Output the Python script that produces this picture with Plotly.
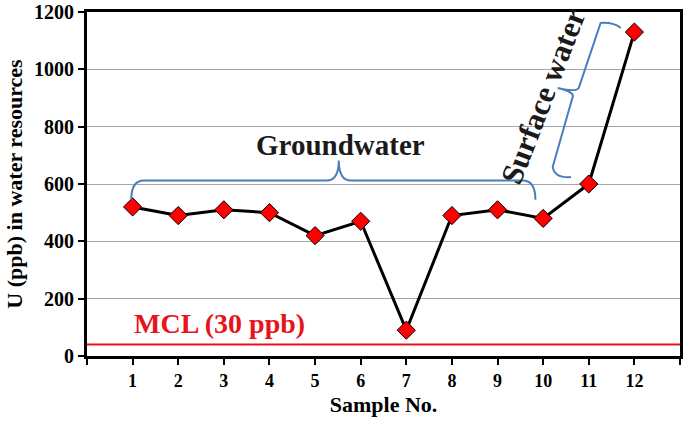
import plotly.graph_objects as go

samples = list(range(1, 13))
uranium_ppb = [520, 490, 510, 500, 420, 470, 90, 490, 510, 480, 600, 1130]
mcl_level = 40
y_ticks = [0, 200, 400, 600, 800, 1000, 1200]

FONT = "Liberation Serif, Times New Roman, serif"
BLUE = "#4a7ebb"

fig = go.Figure()
fig.add_trace(go.Scatter(
    x=samples, y=uranium_ppb, mode="lines+markers",
    line=dict(color="black", width=3),
    marker=dict(symbol="diamond", size=14, color="#ff0000",
                line=dict(color="black", width=1)),
    showlegend=False, cliponaxis=False,
))

shapes = [
    dict(type="line", xref="paper", yref="y", x0=0, x1=1, y0=mcl_level, y1=mcl_level,
         line=dict(color="#e8141b", width=2), layer="below"),
    # Groundwater brace
    dict(type="path", xref="x", yref="y",
         path="M 0.97,545 Q 0.97,612 1.25,612 L 5.25,612 Q 5.52,612 5.52,682 "
              "Q 5.52,612 5.79,612 L 9.55,612 Q 9.83,612 9.83,545",
         line=dict(color=BLUE, width=2)),
    # Surface water brace
    dict(type="path", xref="x", yref="y",
         path="M 11.70,1144 Q 11.55,1165 11.26,1162 L 10.78,935 "
              "Q 10.72,920 10.32,935 Q 10.72,920 10.64,900 "
              "L 10.21,660 Q 10.25,620 10.61,624",
         line=dict(color=BLUE, width=2)),
]

annotations = [
    dict(x=5.55, y=735, xref="x", yref="y", text="<b>Groundwater</b>", showarrow=False,
         font=dict(family=FONT, size=29, color="#1a1a1a")),
    dict(x=0.98, y=112, xref="x", yref="y", text="<b>MCL (30 ppb)</b>", showarrow=False,
         xanchor="left", font=dict(family=FONT, size=28, color="#e8141b")),
    dict(x=10.0, y=905, xref="x", yref="y", text="<b>Surface water</b>", showarrow=False,
         textangle=-69, font=dict(family=FONT, size=31, color="#1a1a1a")),
]

fig.update_layout(
    width=685, height=426,
    margin=dict(l=87, r=5, t=12, b=70),
    paper_bgcolor="white", plot_bgcolor="white",
    shapes=shapes, annotations=annotations,
    xaxis=dict(
        range=[0, 13], tickvals=list(range(0, 14)),
        ticktext=[""] + [str(s) for s in samples] + [""],
        ticks="outside", ticklen=6, tickwidth=2, tickcolor="black",
        showline=True, linecolor="black", linewidth=3, mirror=True,
        showgrid=False, zeroline=False, automargin=False,
        tickfont=dict(family=FONT, size=18, color="black", weight="bold"),
        title=dict(text="<b>Sample No.</b>", font=dict(family=FONT, size=22, color="black"),
                   standoff=8),
    ),
    yaxis=dict(
        range=[0, 1200], tickvals=y_ticks,
        ticks="outside", ticklen=6, tickwidth=2, tickcolor="black",
        showline=True, linecolor="black", linewidth=3, mirror=True,
        showgrid=True, gridcolor="#a6a6a6", gridwidth=1, zeroline=False,
        automargin=False,
        tickfont=dict(family=FONT, size=20, color="black", weight="bold"),
        tickformat="d",
        title=dict(text="<b>U (ppb) in water resources</b>",
                   font=dict(family=FONT, size=22, color="black"), standoff=6),
    ),
)

fig.write_html("out.html", config={"displayModeBar": False},
               post_script="document.body.style.margin='0';")
